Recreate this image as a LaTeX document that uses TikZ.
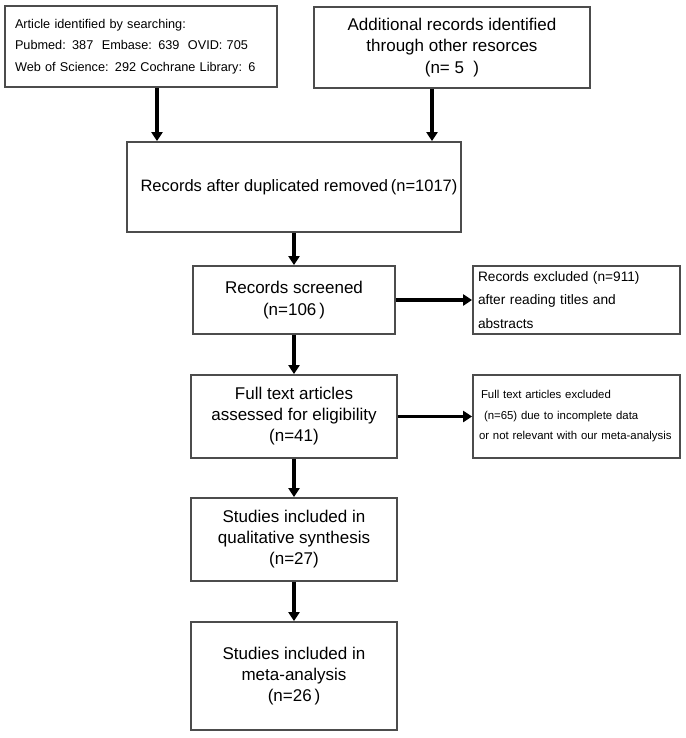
\documentclass[tikz,border=0pt]{standalone}
\usepackage{fontspec}
\setmainfont{Liberation Sans}
\usetikzlibrary{arrows.meta}

\begin{document}
\begin{tikzpicture}[x=1pt,y=-1pt,
        box/.style={draw=black!70,line width=1.8pt,inner sep=0pt,align=center,
            font=\fontsize{17}{21.5}\selectfont},
        lbox/.style={box,align=left,text width=#1},
        arr/.style={-{Triangle[length=9pt,width=11pt]},line width=3.2pt}]
            \useasboundingbox (0,0) rectangle (685,738);
            \node[lbox=252pt,minimum width=272pt,minimum height=81pt,font=\fontsize{12.7}{21.5}\selectfont] at (141,46.5) (s) {Article identified by searching:\\Pubmed: 387~~Embase: 639~~OVID: 705\\Web of Science: 292 Cochrane Library: 6};
            \node[box,minimum width=276pt,minimum height=81pt] at (452,47.5) (o) {Additional records identified\\through other resorces\\(n=~5~~)};
            \node[box,minimum width=334pt,minimum height=90pt,font=\fontsize{16.5}{21}\selectfont] at (294,187) (r) {\hspace{10pt}Records after duplicated removed\,(n=1017)};
            \node[box,minimum width=202pt,minimum height=68pt,font=\fontsize{17}{22}\selectfont] at (294,300) (sc) {Records screened\hspace{8pt}\\(n=106\,)\vphantom{g}};
            \node[lbox=197pt,minimum width=207pt,minimum height=68pt,font=\fontsize{13.7}{23.5}\selectfont] at (576.5,300) (ex) {Records excluded (n=911)\\after reading titles and\\abstracts};
            \node[box,minimum width=206pt,minimum height=83pt,font=\fontsize{17}{21}\selectfont] at (294,416.5) (ft) {Full text articles\\assessed for eligibility\\(n=41)};
            \node[lbox=195pt,minimum width=207pt,minimum height=83pt,font=\fontsize{11.4}{20.5}\selectfont] at (576.5,416.5) (fx) {\hspace{2pt}Full text articles excluded\\\hspace{5pt}(n=65) due to incomplete data\\or not relevant with our meta-analysis};
            \node[box,minimum width=206pt,minimum height=83pt,font=\fontsize{17}{21}\selectfont] at (294,539.5) (ql) {Studies included in\\qualitative synthesis\\(n=27)};
            \node[box,minimum width=206pt,minimum height=108pt,font=\fontsize{17}{21}\selectfont] at (294,676) (ma) {Studies included in\\meta-analysis\\(n=26\,)};
            \draw[arr] ([xshift=16pt]s.south) to ([xshift=16pt]s.south |- r.north);
            \draw[arr] ([xshift=-20pt]o.south) to ([xshift=-20pt]o.south |- r.north);
            \draw[arr] (r) to (sc);
            \draw[arr] (sc) to (ex);
            \draw[arr] (sc) to (ft);
            \draw[arr] (ft) to (fx);
            \draw[arr] (ft) to (ql);
            \draw[arr] (ql) to (ma);
        \end{tikzpicture}
\end{document}
